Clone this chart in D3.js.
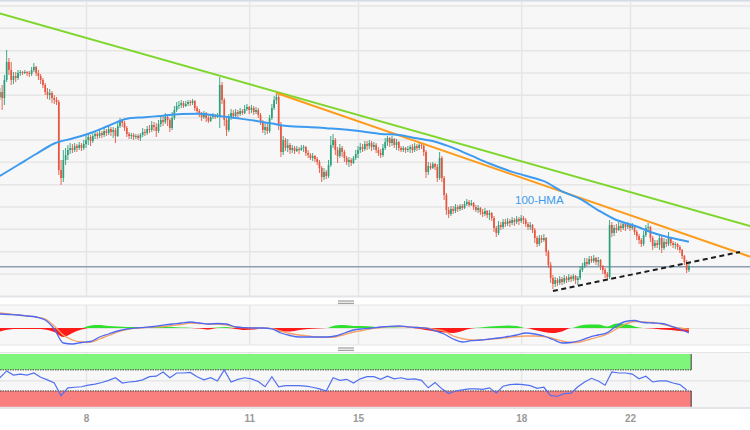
<!DOCTYPE html>
<html><head><meta charset="utf-8">
<script src="https://cdn.jsdelivr.net/npm/d3@7"></script>
<style>
html,body{margin:0;padding:0;background:#fff;}
svg{display:block;font-family:"Liberation Sans",Arial,sans-serif;}
</style></head><body>
<svg id="chart" width="750" height="430"></svg>
<script>
// ---------------- DATA ----------------
const dayLabels = ["8","11","15","18","22"];
const dayStartIndex = [38,110,158,230,278];   // hourly candle index where each labelled day starts

const firstOpen = 1.1203;
const closes = [
1.1208,1.1202,1.1220,1.1238,1.1230,1.1220,1.1224,1.1222,1.1227,1.1228,1.1227,1.1228,1.1227,1.1226,1.1230,1.1233,1.1227,1.1224,1.1220,1.1215,1.1208,1.1205,1.1207,1.1202,1.1200,1.1198,1.1130,1.1122,1.1140,1.1145,1.1150,1.1152,1.1150,1.1154,1.1152,1.1155,1.1152,1.1156,
1.1160,1.1163,1.1159,1.1164,1.1166,1.1164,1.1167,1.1165,1.1169,1.1167,1.1171,1.1168,1.1170,1.1164,1.1174,1.1179,1.1177,1.1172,1.1166,1.1164,1.1165,1.1163,1.1164,1.1162,1.1165,1.1168,1.1167,1.1171,1.1170,1.1175,1.1173,1.1169,1.1176,1.1180,1.1178,1.1183,1.1180,1.1172,1.1182,1.1190,1.1194,1.1195,1.1197,1.1194,1.1196,1.1198,1.1197,1.1199,1.1192,1.1189,1.1186,1.1183,1.1187,1.1182,1.1179,1.1183,1.1185,1.1183,1.1185,1.1215,1.1200,1.1180,1.1170,1.1182,1.1187,1.1184,1.1188,1.1186,1.1189,1.1187,1.1191,1.1193,
1.1190,1.1192,1.1188,1.1190,1.1185,1.1178,1.1170,1.1173,1.1169,1.1182,1.1192,1.1200,1.1203,1.1175,1.1148,1.1160,1.1152,1.1155,1.1150,1.1152,1.1149,1.1151,1.1150,1.1152,1.1153,1.1147,1.1145,1.1142,1.1144,1.1141,1.1138,1.1132,1.1123,1.1128,1.1124,1.1135,1.1155,1.1160,1.1150,1.1144,1.1152,1.1148,1.1142,1.1138,1.1140,1.1137,1.1142,1.1146,
1.1150,1.1153,1.1151,1.1156,1.1154,1.1157,1.1153,1.1155,1.1150,1.1147,1.1145,1.1152,1.1158,1.1162,1.1157,1.1161,1.1155,1.1158,1.1152,1.1150,1.1152,1.1150,1.1151,1.1153,1.1150,1.1154,1.1152,1.1155,1.1154,1.1148,1.1128,1.1134,1.1132,1.1136,1.1133,1.1122,1.1142,1.1122,1.1105,1.1090,1.1086,1.1091,1.1089,1.1093,1.1091,1.1094,1.1092,1.1096,1.1098,1.1095,1.1097,1.1093,1.1090,1.1092,1.1088,1.1086,1.1089,1.1085,1.1087,1.1082,1.1072,1.1067,1.1075,1.1073,1.1078,1.1076,1.1079,1.1077,1.1080,1.1078,1.1081,1.1079,
1.1082,1.1080,1.1076,1.1073,1.1075,1.1070,1.1062,1.1056,1.1062,1.1060,1.1062,1.1048,1.1035,1.1022,1.1016,1.1020,1.1017,1.1021,1.1018,1.1022,1.1020,1.1023,1.1021,1.1024,1.1020,1.1022,1.1030,1.1034,1.1038,1.1036,1.1041,1.1039,1.1042,1.1038,1.1040,1.1034,1.1030,1.1026,1.1023,1.1075,1.1067,1.1072,1.1070,1.1074,1.1072,1.1076,1.1073,1.1075,
1.1072,1.1074,1.1068,1.1064,1.1060,1.1056,1.1065,1.1072,1.1073,1.1062,1.1054,1.1057,1.1055,1.1062,1.1052,1.1058,1.1056,1.1062,1.1057,1.1055,1.1056,1.1053,1.1050,1.1044,1.1038,1.1030,1.1034];
const highs = [
1.1212,1.1215,1.1225,1.1250,1.1242,1.1238,1.1228,1.1228,1.1230,1.1230,1.1229,1.1230,1.1229,1.1229,1.1233,1.1237,1.1234,1.1230,1.1226,1.1222,1.1217,1.1212,1.1211,1.1209,1.1205,1.1203,1.1200,1.1140,1.1150,1.1152,1.1155,1.1157,1.1156,1.1157,1.1156,1.1158,1.1157,1.1160,
1.1165,1.1167,1.1165,1.1167,1.1169,1.1168,1.1170,1.1169,1.1172,1.1171,1.1174,1.1173,1.1173,1.1172,1.1177,1.1182,1.1181,1.1179,1.1174,1.1168,1.1167,1.1167,1.1166,1.1166,1.1167,1.1172,1.1171,1.1174,1.1175,1.1179,1.1178,1.1177,1.1180,1.1184,1.1185,1.1187,1.1186,1.1182,1.1188,1.1194,1.1198,1.1199,1.1200,1.1199,1.1199,1.1200,1.1200,1.1201,1.1200,1.1194,1.1191,1.1188,1.1189,1.1188,1.1185,1.1186,1.1187,1.1186,1.1187,1.1223,1.1218,1.1202,1.1182,1.1186,1.1191,1.1190,1.1191,1.1190,1.1192,1.1191,1.1195,1.1196,
1.1194,1.1195,1.1194,1.1193,1.1192,1.1187,1.1180,1.1178,1.1176,1.1185,1.1196,1.1204,1.1207,1.1205,1.1178,1.1164,1.1162,1.1161,1.1157,1.1155,1.1154,1.1154,1.1153,1.1155,1.1155,1.1154,1.1150,1.1147,1.1147,1.1145,1.1143,1.1140,1.1134,1.1132,1.1130,1.1140,1.1164,1.1166,1.1162,1.1153,1.1156,1.1154,1.1150,1.1144,1.1143,1.1142,1.1144,1.1150,
1.1154,1.1157,1.1156,1.1159,1.1159,1.1160,1.1159,1.1158,1.1157,1.1153,1.1151,1.1156,1.1162,1.1164,1.1163,1.1164,1.1162,1.1161,1.1159,1.1154,1.1154,1.1153,1.1154,1.1155,1.1156,1.1157,1.1156,1.1158,1.1157,1.1156,1.1150,1.1138,1.1137,1.1138,1.1137,1.1136,1.1148,1.1144,1.1124,1.1107,1.1093,1.1094,1.1094,1.1096,1.1095,1.1096,1.1096,1.1099,1.1101,1.1100,1.1100,1.1098,1.1095,1.1095,1.1093,1.1091,1.1092,1.1090,1.1090,1.1088,1.1084,1.1074,1.1079,1.1078,1.1081,1.1081,1.1082,1.1081,1.1083,1.1082,1.1084,1.1083,
1.1085,1.1084,1.1082,1.1078,1.1078,1.1076,1.1072,1.1064,1.1065,1.1065,1.1066,1.1063,1.1050,1.1038,1.1025,1.1023,1.1022,1.1024,1.1023,1.1025,1.1024,1.1026,1.1025,1.1026,1.1025,1.1024,1.1034,1.1037,1.1042,1.1042,1.1044,1.1044,1.1045,1.1043,1.1043,1.1041,1.1035,1.1032,1.1028,1.1080,1.1078,1.1075,1.1076,1.1078,1.1077,1.1078,1.1077,1.1078,
1.1076,1.1077,1.1075,1.1070,1.1066,1.1062,1.1069,1.1075,1.1077,1.1074,1.1064,1.1060,1.1060,1.1066,1.1064,1.1062,1.1061,1.1068,1.1063,1.1059,1.1058,1.1057,1.1055,1.1051,1.1045,1.1040,1.1037];
const lows = [
1.1200,1.1190,1.1195,1.1218,1.1225,1.1215,1.1216,1.1218,1.1220,1.1224,1.1225,1.1226,1.1224,1.1223,1.1224,1.1228,1.1224,1.1220,1.1216,1.1212,1.1205,1.1201,1.1200,1.1197,1.1196,1.1195,1.1125,1.1115,1.1118,1.1135,1.1140,1.1146,1.1147,1.1148,1.1148,1.1150,1.1149,1.1150,
1.1152,1.1155,1.1154,1.1157,1.1161,1.1161,1.1162,1.1162,1.1163,1.1164,1.1165,1.1164,1.1162,1.1157,1.1163,1.1172,1.1173,1.1169,1.1163,1.1161,1.1161,1.1160,1.1161,1.1160,1.1159,1.1163,1.1164,1.1165,1.1167,1.1168,1.1169,1.1163,1.1167,1.1173,1.1174,1.1176,1.1174,1.1168,1.1170,1.1180,1.1188,1.1191,1.1192,1.1192,1.1193,1.1194,1.1194,1.1195,1.1189,1.1187,1.1183,1.1179,1.1181,1.1178,1.1177,1.1178,1.1181,1.1181,1.1182,1.1172,1.1196,1.1174,1.1164,1.1168,1.1180,1.1181,1.1183,1.1183,1.1184,1.1185,1.1186,1.1189,
1.1186,1.1187,1.1185,1.1186,1.1182,1.1175,1.1167,1.1165,1.1166,1.1167,1.1180,1.1190,1.1196,1.1170,1.1143,1.1145,1.1149,1.1148,1.1146,1.1147,1.1146,1.1148,1.1146,1.1149,1.1148,1.1144,1.1142,1.1140,1.1139,1.1138,1.1135,1.1127,1.1118,1.1120,1.1121,1.1122,1.1133,1.1152,1.1145,1.1137,1.1142,1.1143,1.1138,1.1135,1.1133,1.1134,1.1136,1.1140,
1.1142,1.1147,1.1148,1.1149,1.1150,1.1151,1.1149,1.1150,1.1147,1.1144,1.1142,1.1143,1.1150,1.1154,1.1153,1.1154,1.1152,1.1150,1.1149,1.1148,1.1148,1.1147,1.1148,1.1147,1.1147,1.1148,1.1149,1.1150,1.1151,1.1144,1.1122,1.1125,1.1130,1.1131,1.1130,1.1118,1.1120,1.1118,1.1100,1.1085,1.1082,1.1084,1.1086,1.1087,1.1088,1.1089,1.1090,1.1091,1.1094,1.1093,1.1094,1.1090,1.1088,1.1087,1.1085,1.1083,1.1084,1.1082,1.1080,1.1079,1.1068,1.1063,1.1065,1.1070,1.1071,1.1073,1.1074,1.1073,1.1075,1.1074,1.1076,1.1075,
1.1077,1.1076,1.1073,1.1070,1.1070,1.1067,1.1057,1.1053,1.1054,1.1057,1.1058,1.1044,1.1032,1.1017,1.1011,1.1013,1.1014,1.1015,1.1015,1.1016,1.1017,1.1018,1.1018,1.1019,1.1016,1.1015,1.1020,1.1028,1.1032,1.1034,1.1035,1.1037,1.1037,1.1035,1.1034,1.1030,1.1026,1.1022,1.1020,1.1021,1.1063,1.1064,1.1067,1.1069,1.1068,1.1070,1.1069,1.1071,
1.1069,1.1070,1.1065,1.1060,1.1056,1.1053,1.1054,1.1063,1.1068,1.1058,1.1050,1.1052,1.1052,1.1050,1.1047,1.1050,1.1053,1.1054,1.1054,1.1052,1.1051,1.1050,1.1047,1.1041,1.1035,1.1027,1.1028];

// 100-HMA, one value every 8 candles
const hmaStep = 8;
const hma = [1.1124,1.1135,1.1146,1.11565,1.11615,1.1167,1.11742,1.11813,1.11828,1.11843,1.11859,1.11863,1.11843,1.11819,1.11795,1.11764,1.11737,1.11731,1.11718,1.11704,1.11684,1.11661,1.1165,1.11617,1.11583,1.11521,1.11443,1.11365,1.11297,1.11242,1.11188,1.11086,1.11011,1.10897,1.108,1.10743,1.10672,1.10622,1.10582];

// trend lines: [candle index, price]
const greenTrend = [[0,1.12865],[331,1.1074]];
const orangeTrend = [[122,1.1207],[331,1.10433]];
const supportTrend = [[244,1.1009],[326.5,1.1048]];
const levelLine = 1.10333;
const gridPrices = [1.10265,1.10488,1.10712,1.10935,1.11158,1.11382,1.11605,1.11828,1.12052,1.12275,1.12498,1.12722,1.12945];

// MACD, one value every 4 candles
const macdStep = 4;
const macdLine = [0.0014,0.00135,0.0013,0.0012,0.0011,0.0008,-0.0001,-0.0015,-0.0016,-0.00145,-0.00135,-0.0009,-0.0006,-0.0003,-0.0001,0,0.00007,0.00015,0.00028,0.0004,0.0005,0.0006,0.0005,0.0004,0.00045,0.0004,0.0001,0.00003,0,0,-0.00008,-0.0005,-0.00075,-0.0009,-0.0009,-0.0009,-0.0009,-0.0008,-0.0005,-0.0002,-0.00008,0,0.0001,0.00017,0.0002,0.00012,0.00005,-0.00002,-0.00027,-0.0006,-0.0011,-0.0014,-0.00127,-0.0012,-0.0011,-0.001,-0.00085,-0.0007,-0.0005,-0.0006,-0.0008,-0.00115,-0.0015,-0.00145,-0.00125,-0.00093,-0.0007,-0.00047,0.0002,0.00065,0.00075,0.00055,0.0005,0.00045,0.0002,-0.0001,-0.0005];
const signalLine = [0.0015,0.0014,0.0013,0.0012,0.0011,0.0009,0.0002,-0.0007,-0.0012,-0.0014,-0.0014,-0.0011,-0.00075,-0.0004,-0.00015,-0.00003,0.00005,0.0001,0.00015,0.00025,0.00035,0.0005,0.00045,0.0004,0.00037,0.0003,0.0001,0.00003,0,0,-0.00007,-0.0003,-0.00055,-0.0007,-0.0008,-0.0009,-0.00093,-0.0009,-0.00065,-0.0004,-0.00025,-0.00007,0.00005,0.00013,0.00015,0.0001,0.00005,0,-0.00015,-0.0003,-0.0008,-0.00105,-0.0012,-0.0012,-0.00113,-0.00105,-0.00095,-0.00085,-0.0008,-0.0008,-0.00085,-0.00105,-0.0013,-0.00145,-0.0014,-0.00115,-0.0009,-0.0006,-0.0001,0.0004,0.00065,0.0006,0.00055,0.0004,0.00015,0,-0.00015];
const macdHist = [-0.00035,-0.00015,-0.0001,-0.0001,-0.0001,-0.00015,-0.0004,-0.0009,-0.0005,-0.00015,0.00025,0.0003,0.0002,0.00015,0.0001,0.0001,0.0001,0.0001,0.00015,0.0001,0.00005,0.00003,-0.00005,-0.00015,0.00005,0.0001,-0.0001,-0.0002,-0.00015,-0.00005,-0.0001,-0.00035,-0.00035,-0.0002,-0.0001,-0.00005,0,0.00025,0.0003,0.0002,0.0002,0.00015,0.00005,0.00005,0.00003,0,-0.00005,-0.0002,-0.00035,-0.00045,-0.0005,-0.0003,-0.00005,0.00005,0.00015,0.0002,0.00025,0.0002,0,-0.0002,-0.0004,-0.0005,-0.00035,0,0.00025,0.00035,0.00035,0.00015,0.00045,0.0004,0.00015,0,-0.00005,-0.00015,-0.0002,-0.0003,-0.0004];

// RSI, one value every 3 candles
const rsiStep = 3;
const rsi = [55,68,60,62,60,64,56,51,45,21,36,37,38,41,43,46,50,55,45,47,48,51,57,58,66,55,64,64,65,57,51,55,49,70,47,52,55,53,48,38,57,38,40,40,40,39,37,34,30,55,50,52,45,53,57,57,52,58,53,55,52,53,50,36,46,34,25,30,32,34,34,33,36,26,39,42,43,42,40,35,37,21,20,25,26,38,47,54,49,41,66,64,64,62,53,58,47,49,49,45,42,32];
const rsiBands = [30,70];

// ---------------- CHART ----------------
const W = 750, H = 430;
const svg = d3.select("#chart");
const N = closes.length;

const x = d3.scaleLinear().domain([38, 278]).range([86, 630]);
const y = d3.scaleLinear().domain([1.1000, 1.1300]).range([300, 0]);
const yM = d3.scaleLinear().domain([-0.0017, 0.0023]).range([345, 305]);
const yR = d3.scaleLinear().domain([0, 100]).range([406.8, 354]);

const panels = [
  {top: 1, bottom: 296},
  {top: 305, bottom: 345},
  {top: 352, bottom: 408}
];

svg.append("rect").attr("width", W).attr("height", H).attr("fill", "#ffffff");
panels.forEach(p => {
  svg.append("rect").attr("x", 0).attr("y", p.top).attr("width", W)
    .attr("height", p.bottom - p.top).attr("fill", "#f7f7f7");
});
// panel borders
svg.append("rect").attr("x",0).attr("y",0).attr("width",W).attr("height",1.5).attr("fill","#d3dbe6");
[[296.5,2,"#e2e4e7"],[305,1,"#e4e4e4"],[345,1,"#e4e4e4"],[352.5,1,"#e4e4e4"],[408,2,"#e2e4e7"]].forEach(([yy,w,c])=>{
  svg.append("line").attr("x1",0).attr("x2",W).attr("y1",yy).attr("y2",yy).attr("stroke",c).attr("stroke-width",w);
});
// drag handles
[301, 348].forEach(hy => {
  [0, 2.4].forEach(o => svg.append("line").attr("x1", 338).attr("x2", 354)
    .attr("y1", hy + o).attr("y2", hy + o).attr("stroke", "#a3a3a3").attr("stroke-width", 1.3));
});

// vertical grid lines in each panel
panels.forEach(p => {
  const g = svg.append("g").attr("transform", `translate(0,${p.bottom})`)
    .call(d3.axisBottom(x).tickValues(dayStartIndex).tickSize(-(p.bottom - p.top)).tickFormat(""));
  g.select(".domain").remove();
  g.selectAll(".tick line").attr("stroke", "#e6e6e6").attr("stroke-width", 1.5);
});
// horizontal grid lines main panel
const gy = svg.append("g").call(d3.axisLeft(y).tickValues(gridPrices).tickSize(-W).tickFormat(""));
gy.select(".domain").remove();
gy.selectAll(".tick line").attr("stroke", "#e6e6e6").attr("stroke-width", 1.5);
// MACD zero line & RSI mid line
const gm = svg.append("g").call(d3.axisLeft(yM).tickValues([0]).tickSize(-W).tickFormat(""));
gm.select(".domain").remove();
gm.selectAll(".tick line").attr("stroke", "#e3e3e3").attr("stroke-width", 1.2);
const gr = svg.append("g").call(d3.axisLeft(yR).tickValues([50]).tickSize(-W).tickFormat(""));
gr.select(".domain").remove();
gr.selectAll(".tick line").attr("stroke", "#e3e3e3").attr("stroke-width", 1.2);

// clip for main panel
svg.append("clipPath").attr("id", "mainClip").append("rect")
  .attr("x", 0).attr("y", 1).attr("width", W).attr("height", 295);
const main = svg.append("g").attr("clip-path", "url(#mainClip)");

// horizontal level line
main.append("line").attr("x1", 0).attr("x2", W)
  .attr("y1", y(levelLine)).attr("y2", y(levelLine))
  .attr("stroke", "#8e9db1").attr("stroke-width", 1.6);

// candles
const candles = d3.range(N).map(i => {
  const o = i === 0 ? firstOpen : closes[i - 1];
  const c = closes[i];
  return {i, o, c, h: Math.max(highs[i], o, c), l: Math.min(lows[i], o, c)};
});
const upCol = "#2a9f7c", downCol = "#e8553f";
const cg = main.append("g");
cg.selectAll("line").data(candles).join("line")
  .attr("x1", d => x(d.i)).attr("x2", d => x(d.i))
  .attr("y1", d => y(d.h)).attr("y2", d => y(d.l))
  .attr("stroke", d => d.c >= d.o ? upCol : downCol).attr("stroke-width", 0.9);
cg.selectAll("rect").data(candles).join("rect")
  .attr("x", d => x(d.i) - 0.85).attr("width", 1.7)
  .attr("y", d => y(Math.max(d.o, d.c)))
  .attr("height", d => Math.max(0.8, y(Math.min(d.o, d.c)) - y(Math.max(d.o, d.c))))
  .attr("fill", d => d.c >= d.o ? upCol : downCol);

// trend lines
const tl = d3.line().x(d => x(d[0])).y(d => y(d[1]));
main.append("path").attr("d", tl(greenTrend)).attr("fill", "none")
  .attr("stroke", "#7ed62b").attr("stroke-width", 2);
main.append("path").attr("d", tl(orangeTrend)).attr("fill", "none")
  .attr("stroke", "#fd9c1c").attr("stroke-width", 2);
// HMA
main.append("path").datum(hma)
  .attr("d", d3.line().x((d, k) => x(k * hmaStep)).y(d => y(d)).curve(d3.curveMonotoneX))
  .attr("fill", "none").attr("stroke", "#3d9bef").attr("stroke-width", 2);
main.append("path").attr("d", tl(supportTrend)).attr("fill", "none")
  .attr("stroke", "#1e1e1e").attr("stroke-width", 2).attr("stroke-dasharray", "5,3.5");

main.append("text").attr("x", 515).attr("y", 203.5).text("100-HMA")
  .attr("fill", "#3d9bef").attr("font-size", "11.5px");

// MACD panel
const hx = (d, k) => x(k * macdStep);
svg.append("path").datum(macdHist)
  .attr("d", d3.area().x(hx).y0(yM(0)).y1(d => yM(Math.max(0, d))).curve(d3.curveMonotoneX))
  .attr("fill", "#2fe02f");
svg.append("path").datum(macdHist)
  .attr("d", d3.area().x(hx).y0(yM(0)).y1(d => yM(Math.min(0, d))).curve(d3.curveMonotoneX))
  .attr("fill", "#ff1a1a");
svg.append("path").datum(signalLine)
  .attr("d", d3.line().x(hx).y(d => yM(d)).curve(d3.curveMonotoneX))
  .attr("fill", "none").attr("stroke", "#f5a064").attr("stroke-width", 1.3);
svg.append("path").datum(macdLine)
  .attr("d", d3.line().x(hx).y(d => yM(d)).curve(d3.curveMonotoneX))
  .attr("fill", "none").attr("stroke", "#4d68f2").attr("stroke-width", 1.3);

// RSI panel
const xEnd = x(N);
svg.append("rect").attr("x", 0).attr("y", yR(100)).attr("width", xEnd)
  .attr("height", yR(rsiBands[1]) - yR(100)).attr("fill", "#7ff57b");
svg.append("rect").attr("x", 0).attr("y", yR(rsiBands[0])).attr("width", xEnd)
  .attr("height", yR(0) - yR(rsiBands[0])).attr("fill", "#f97f7f");
[[rsiBands[1], 100], [rsiBands[0], 0]].forEach(([edge, far]) => {
  svg.append("line").attr("x1", 0).attr("x2", xEnd).attr("y1", yR(edge)).attr("y2", yR(edge))
    .attr("stroke", "#3c3c3c").attr("stroke-width", 1).attr("stroke-dasharray", "1.5,1");
  svg.append("line").attr("x1", xEnd).attr("x2", xEnd).attr("y1", yR(edge)).attr("y2", yR(far))
    .attr("stroke", "#3c3c3c").attr("stroke-width", 1);
});
svg.append("path").datum(rsi)
  .attr("d", d3.line().x((d, k) => x(k * rsiStep)).y(d => yR(d)))
  .attr("fill", "none").attr("stroke", "#5070f0").attr("stroke-width", 1.2);

// x axis labels
const ax = svg.append("g").attr("transform", "translate(0,408)")
  .call(d3.axisBottom(x).tickValues(dayStartIndex).tickSize(0).tickPadding(7)
    .tickFormat((d, i) => dayLabels[i]));
ax.select(".domain").remove();
ax.selectAll("text").attr("fill", "#9a9a9a").attr("font-size", "10px")
  .attr("font-weight", "bold").attr("font-family", "Liberation Sans, Arial, sans-serif");
</script>
</body></html>
